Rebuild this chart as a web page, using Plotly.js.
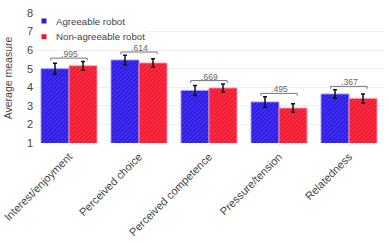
<!DOCTYPE html>
<html><head><meta charset="utf-8">
<script src="https://cdn.plot.ly/plotly-3.0.1.min.js"></script>
<style>html,body{margin:0;padding:0;background:#fff}#c{width:389px;height:243px}</style>
</head><body><div id="c"></div>
<script>
const categories = ["Interest/enjoyment","Perceived choice","Perceived competence","Pressure/tension","Relatedness"];
const seriesNames = ["Agreeable robot", "Non-agreeable robot"];
const agreeable = [5.00, 5.47, 3.83, 3.21, 3.64];
const agreeableErr = [0.30, 0.25, 0.27, 0.28, 0.23];
const nonAgreeable = [5.16, 5.31, 3.96, 2.88, 3.40];
const nonAgreeableErr = [0.23, 0.23, 0.22, 0.23, 0.24];
const pValues = [".995", ".614", ".669", ".495", ".367"];
const yTicks = [1,2,3,4,5,6,7,8];

const font = "Liberation Sans, Arial, sans-serif";
const colors = ['#2d19e4', '#f0162e'];
const stripes = ['#4c3ef2', '#ff3d52'];
const errs = [agreeableErr, nonAgreeableErr];
const traces = [agreeable, nonAgreeable].map((vals, k) => ({
  type:'bar', name:seriesNames[k], x:categories, y:vals, showlegend:false,
  error_y:{type:'data', array:errs[k], color:'#111', thickness:1.5, width:2},
  marker:{color:colors[k], line:{color:k ? 'rgba(255,150,160,0.9)' : 'rgba(160,150,255,0.9)', width:1},
    pattern:{shape:'/', bgcolor:colors[k], fgcolor:stripes[k], fillmode:'replace', size:3, solidity:0.35}}
}));

// pixel helpers for paper-referenced legend drawing
const W = 389, H = 243, M = {l:34, r:5, t:13, b:100};
const pw = W - M.l - M.r, ph = H - M.t - M.b;
const px = v => (v - M.l) / pw, py = v => (H - M.b - v) / ph;

const shapes = [], annotations = [];
categories.forEach((c,i)=>{
  const top = Math.max(agreeable[i]+agreeableErr[i], nonAgreeable[i]+nonAgreeableErr[i]);
  const y = top + 0.18, yt = y - 0.13;
  const x0 = i - 0.26, x1 = i + 0.26;
  const ln = {color:'#777', width:1};
  shapes.push({type:'line', xref:'x', yref:'y', x0:x0, x1:x1, y0:y, y1:y, line:ln});
  shapes.push({type:'line', xref:'x', yref:'y', x0:x0, x1:x0, y0:yt, y1:y, line:ln});
  shapes.push({type:'line', xref:'x', yref:'y', x0:x1, x1:x1, y0:yt, y1:y, line:ln});
  annotations.push({xref:'x', yref:'y', x:i, y:y, text:pValues[i], showarrow:false,
    yanchor:'bottom', yshift:-3, font:{family:font, size:8.6, color:'#666'}});
});

// legend (white box, swatches, labels)
shapes.push({type:'rect', xref:'paper', yref:'paper', x0:px(35), x1:px(146), y0:py(44), y1:py(13.5),
  fillcolor:'#fff', line:{width:0}, layer:'above'});
seriesNames.forEach((n,k)=>{
  const cy = 21 + k*15.7;
  shapes.push({type:'rect', xref:'paper', yref:'paper', x0:px(41.5), x1:px(46.5), y0:py(cy+2.5), y1:py(cy-2.5),
    fillcolor:colors[k], line:{width:0}, layer:'above'});
  annotations.push({xref:'paper', yref:'paper', x:px(53.5), y:py(cy), text:n, showarrow:false,
    xanchor:'left', yanchor:'middle', font:{family:font, size:9.7, color:'#444'}});
});

const layout = {
  width:W, height:H,
  margin:M,
  paper_bgcolor:'#fff', plot_bgcolor:'#fff',
  barmode:'group', bargap:0.2, bargroupgap:0,
  font:{family:font, size:11, color:'#444'},
  showlegend:false,
  xaxis:{type:'category', tickangle:-45, ticks:'outside', ticklen:2, tickcolor:'#ddd',
    showgrid:false, showline:false, tickfont:{family:font, size:11, color:'#444'}},
  yaxis:{range:[1,8], tickvals:yTicks, ticktext:yTicks.map(String), showgrid:true, gridcolor:'#f0f0f0',
    zeroline:false, showline:false, ticks:'', tickfont:{family:font, size:11, color:'#444'},
    title:{text:'Average measure', font:{family:font, size:10.5, color:'#444'}, standoff:12}},
  shapes:shapes, annotations:annotations
};
Plotly.newPlot('c', traces, layout, {displayModeBar:false, staticPlot:true});
</script></body></html>
